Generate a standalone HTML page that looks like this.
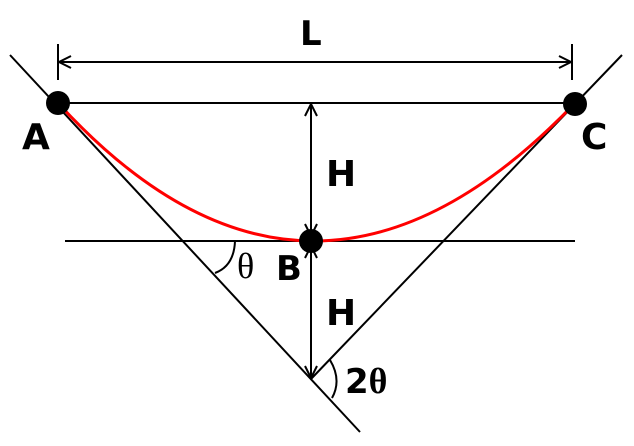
<html><body style="margin:0;background:#fff">
<svg width="634" height="446" xmlns="http://www.w3.org/2000/svg" style="display:block">
<defs>
<marker id="a" viewBox="0 0 14 14" refX="13" refY="7" markerWidth="14" markerHeight="14" markerUnits="userSpaceOnUse" orient="auto-start-reverse">
<path d="M1,1 L13,7 L1,13" fill="none" stroke="#000" stroke-width="2"/>
</marker>
</defs>
<g stroke="#000" stroke-width="2" fill="none">
<line x1="10" y1="55" x2="360" y2="432"/>
<line x1="622" y1="55" x2="311" y2="379"/>
<line x1="65" y1="241" x2="575" y2="241"/>
<line x1="58" y1="103" x2="575" y2="103"/>
<line x1="58" y1="44" x2="58" y2="80"/>
<line x1="572" y1="44" x2="572" y2="80"/>
<line x1="59" y1="62" x2="571" y2="62" marker-start="url(#a)" marker-end="url(#a)"/>
<line x1="311" y1="104" x2="311" y2="236" marker-start="url(#a)" marker-end="url(#a)"/>
<line x1="311" y1="246" x2="311" y2="378" marker-start="url(#a)" marker-end="url(#a)"/>
<path d="M235,241 Q234,266 215,273"/>
<path d="M330,360 Q342,380 332,398"/>
</g>
<path d="M58,103 Q311,379 575,103" stroke="#f00" stroke-width="3" fill="none"/>
<circle cx="58" cy="103" r="12" fill="#000"/>
<circle cx="575" cy="104" r="12" fill="#000"/>
<circle cx="311" cy="241" r="12" fill="#000"/>
<g font-family="DejaVu Sans, sans-serif" font-weight="bold" font-size="36" fill="#000">
<text x="300" y="45" font-size="34">L</text>
<text x="22" y="149">A</text>
<text x="581" y="149">C</text>
<text x="326" y="186">H</text>
<text x="326" y="325">H</text>
<text x="276" y="280" font-size="34">B</text>
<text x="345" y="393" font-size="34">2<tspan font-family="Liberation Serif, serif" font-size="36">θ</tspan></text>
<text x="237" y="278" font-family="Liberation Serif, serif" font-weight="normal" font-size="36">θ</text>
</g>
</svg>
</body></html>
